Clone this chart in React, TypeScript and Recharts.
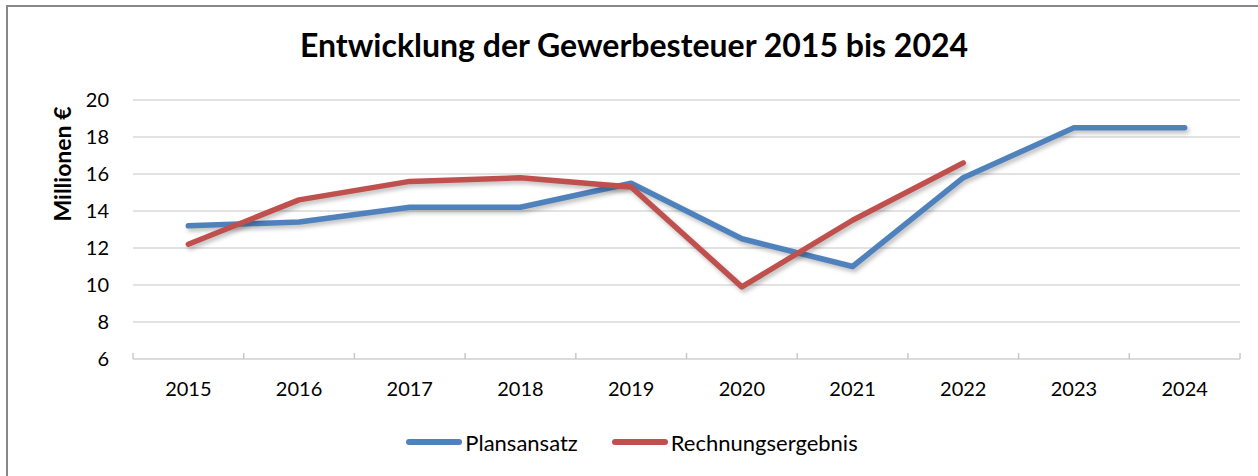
import { LineChart, Line, XAxis, YAxis, CartesianGrid, Legend } from 'recharts';

// Jahre auf der X-Achse
const years = ['2015', '2016', '2017', '2018', '2019', '2020', '2021', '2022', '2023', '2024'];
// Plansansatz in Mio. €
const plan = [13.2, 13.4, 14.2, 14.2, 15.5, 12.5, 11.0, 15.8, 18.5, 18.5];
// Rechnungsergebnis in Mio. € (2023/2024 noch offen)
const result = [12.2, 14.6, 15.6, 15.8, 15.3, 9.9, 13.5, 16.6, null, null];
const yTicks = [6, 8, 10, 12, 14, 16, 18, 20];

const BLUE = '#4F81BD';
const RED = '#C0504D';
const FONT = 'Lato, "Open Sans", sans-serif';
const X_TICK_MARGIN = 23;

const data = years.map((year, i) => ({ year, plan: plan[i], result: result[i] }));

const series = [
  { dataKey: 'plan', name: 'Plansansatz', stroke: BLUE },
  { dataKey: 'result', name: 'Rechnungsergebnis', stroke: RED },
];

// Jahreslabel + Teilstriche zwischen den Kategorien (nach innen, wie Excel)
const YearTick = (props: any) => {
  const { x, y, payload, index, visibleTicksCount } = props;
  const axisY = y - X_TICK_MARGIN;
  const half = payload.offset || 0;
  const isLast = index === visibleTicksCount - 1;
  return (
    <g>
      <line x1={x - half} x2={x - half} y1={axisY} y2={axisY - 6} stroke="#c8c8c8" strokeWidth={1.5} />
      {isLast && <line x1={x + half} x2={x + half} y1={axisY} y2={axisY - 6} stroke="#c8c8c8" strokeWidth={1.5} />}
      <text x={x} y={y} dy="0.71em" textAnchor="middle" fill="#000" fontSize={20} fontFamily={FONT}>
        {payload.value}
      </text>
    </g>
  );
};

const LegendContent = () => (
  <div style={{ display: 'flex', justifyContent: 'center', alignItems: 'center', gap: 34, height: 30, fontFamily: FONT, fontSize: 22, color: '#000', paddingLeft: 24 }}>
    {series.map(s => (
      <div key={s.dataKey} style={{ display: 'flex', alignItems: 'center' }}>
        <span style={{ display: 'inline-block', width: 56, height: 6, borderRadius: 3, background: s.stroke, marginRight: 3 }} />
        <span>{s.name}</span>
      </div>
    ))}
  </div>
);

export default function App() {
  return (
    <div style={{ position: 'absolute', left: 0, top: 0, width: 1258, height: 476, background: '#fff', overflow: 'hidden', fontFamily: FONT }}>
      {/* Rahmen wie im Original, rechts/unten abgeschnitten */}
      <div style={{ position: 'absolute', left: 6, top: 5, width: 1270, height: 490, border: '2px solid #888' }} />
      <div style={{ position: 'absolute', left: 0, top: 25, width: 1268, textAlign: 'center', fontSize: 32, fontWeight: 700, color: '#000' }}>
        Entwicklung der Gewerbesteuer 2015 bis 2024
      </div>
      <div style={{ position: 'absolute', left: 0, top: 0 }}>
        <LineChart width={1258} height={476} data={data} margin={{ top: 100, right: 18, left: 0, bottom: 19 }}>
          <CartesianGrid horizontal vertical={false} stroke="#d9d9d9" strokeWidth={1.5} />
          <XAxis
            dataKey="year"
            scale="band"
            height={68}
            axisLine={{ stroke: '#d9d9d9', strokeWidth: 1.5 }}
            tickLine={false}
            tickSize={0}
            tickMargin={X_TICK_MARGIN}
            tick={<YearTick />}
            interval={0}
          />
          <YAxis
            domain={[6, 20]}
            ticks={yTicks}
            width={133}
            axisLine={false}
            tickLine={false}
            tickSize={0}
            tickMargin={24}
            tick={{ fill: '#000', fontSize: 20, fontFamily: FONT }}
            label={{
              content: () => (
                <text x={71} y={164} transform="rotate(-90, 71, 164)" textAnchor="middle" fontSize={23} fontWeight={700} fontFamily={FONT} fill="#000">
                  Millionen €
                </text>
              ),
            }}
          />
          <Legend verticalAlign="bottom" content={<LegendContent />} />
          {series.map(s => (
            <Line
              key={s.dataKey}
              type="linear"
              dataKey={s.dataKey}
              name={s.name}
              stroke={s.stroke}
              strokeWidth={5.5}
              strokeLinecap="round"
              strokeLinejoin="round"
              dot={false}
              activeDot={false}
              isAnimationActive={false}
              style={{ filter: 'drop-shadow(2px 3px 2px rgba(0,0,0,0.25))' }}
            />
          ))}
        </LineChart>
      </div>
    </div>
  );
}
